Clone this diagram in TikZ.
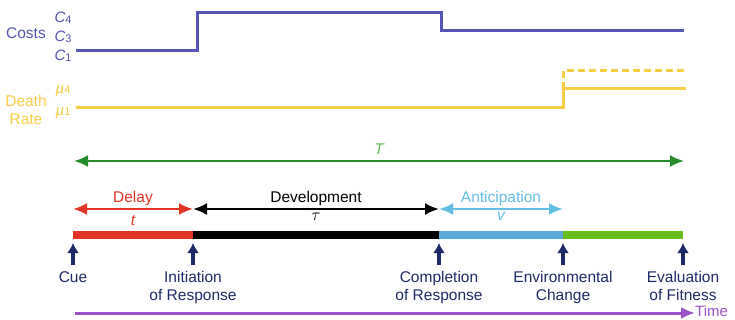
\documentclass[tikz,border=0pt]{standalone}
\usepackage{fontspec}
\setmainfont{Liberation Sans}
\usetikzlibrary{arrows.meta}

\definecolor{costcol}{RGB}{84,84,180}
\definecolor{deathcol}{RGB}{246,206,70}
\definecolor{spancol}{RGB}{36,140,40}
\definecolor{spanlbl}{RGB}{96,186,90}
\definecolor{delaycol}{RGB}{226,52,36}
\definecolor{anticol}{RGB}{98,190,228}
\definecolor{barblue}{RGB}{90,168,216}
\definecolor{bargreen}{RGB}{104,188,30}
\definecolor{eventcol}{RGB}{30,42,104}
\definecolor{timecol}{RGB}{156,82,200}

\begin{document}
\begin{tikzpicture}[x=1pt,y=-1pt,>={Latex[length=14pt,width=12pt]},
                    font=\fontsize{15.5}{18}\selectfont]
      \tikzstyle{level}=[font=\fontsize{15}{16}\selectfont\itshape,inner sep=1pt]
      \tikzstyle{span}=[<->,line width=2.4pt]
      \tikzstyle{bar}=[line width=8pt]
      \tikzstyle{event}=[-{Latex[length=10pt,width=12pt]},eventcol,line width=3.5pt]
      \tikzstyle{evlabel}=[eventcol,anchor=north,align=center,inner sep=1pt]

      \useasboundingbox (0,0) rectangle (735,320);

      % costs and death rate
      \node[costcol] (costs) at (26,33) {Costs};
      \node[level,costcol] (c4) at (63,18) {C\raisebox{-1.5pt}{\fontsize{11}{11}\selectfont\upshape 4}};
      \node[level,costcol] (c3) at (63,37) {C\raisebox{-1.5pt}{\fontsize{11}{11}\selectfont\upshape 3}};
      \node[level,costcol] (c1) at (63,56) {C\raisebox{-1.5pt}{\fontsize{11}{11}\selectfont\upshape 1}};
      \node[deathcol,align=center] (death) at (26,110) {Death\\Rate};
      \node[level,deathcol] (mu4) at (63,91) {\textmu\raisebox{0pt}{\fontsize{11}{11}\selectfont\upshape 4}};
      \node[level,deathcol] (mu1) at (63,113) {\textmu\raisebox{0pt}{\fontsize{11}{11}\selectfont\upshape 1}};

      \coordinate (cs) at (76,51);
      \coordinate (cu) at (197,13);
      \coordinate (cd) at (441,31);
      \coordinate (ce) at (684,31);
      \draw[costcol,line width=3pt] (cs) -| (cu) -| (cd) -- (ce);

      \coordinate (ds) at (76,108);
      \coordinate (du) at (563,89);
      \coordinate (de) at (686,89);
      \coordinate (dh) at (563,71);
      \coordinate (dhe) at (686,71);
      \draw[deathcol,line width=3pt] (ds) -| (du) -- (de);
      \draw[deathcol,line width=3pt,dash pattern=on 7pt off 4pt] (du) -- (dh) -- (dhe);

      % time points
      \coordinate (cue) at (73,235);
      \coordinate (init) at (193,235);
      \coordinate (compl) at (439,235);
      \coordinate (envch) at (563,235);
      \coordinate (evalf) at (683,235);

      % spans
      \coordinate (ta) at (74,161);
      \coordinate (tb) at (684,161);
      \draw[span,spancol] (ta) -- node[above=2pt,spanlbl,font=\fontsize{15.5}{18}\selectfont\itshape] (tlbl) {T} (tb);
      \draw[span,delaycol] (cue |- 0,209) -- node[above=-1pt] (dlbl) {Delay}
            node[below=2pt,font=\fontsize{15.5}{18}\selectfont\itshape] (tsym) {t} (init |- 0,209);
      \draw[span,black] (init |- 0,209) -- node[above=-1pt] (devlbl) {Development}
            node[below=0pt,font=\fontsize{19}{20}\selectfont] (tausym) {$\tau$} (compl |- 0,209);
      \draw[span,anticol] (compl |- 0,209) -- node[above=-1pt] (alabel) {Anticipation}
            node[below=-1pt,font=\fontsize{15.5}{18}\selectfont\itshape] (vsym) {v} (envch |- 0,209);

      % timeline bar
      \draw[bar,delaycol] (cue) -- (init);
      \draw[bar,black] (init) -- (compl);
      \draw[bar,barblue] (compl) -- (envch);
      \draw[bar,bargreen] (envch) -- (evalf);

      % events
      \foreach \p/\txt in {cue/Cue,init/Initiation\\of Response,compl/Completion\\of Response,
                            envch/Environmental\\Change,evalf/Evaluation\\of Fitness}{
        \draw[event] (\p) ++(0,30) coordinate (\p-foot) -- ++(0,-22);
        \node[evlabel] (\p-lbl) at ([yshift=-5pt]\p-foot) {\txt};
      }

      % time axis
      \coordinate (tma) at (75,313);
      \coordinate (tmb) at (695,313);
      \draw[->,timecol,line width=3pt] (tma) -- (tmb);
      \node[timecol,anchor=west,inner sep=0pt,yshift=2pt,font=\fontsize{15}{16}\selectfont] (timelbl) at (tmb) {Time};

    \end{tikzpicture}
\end{document}
